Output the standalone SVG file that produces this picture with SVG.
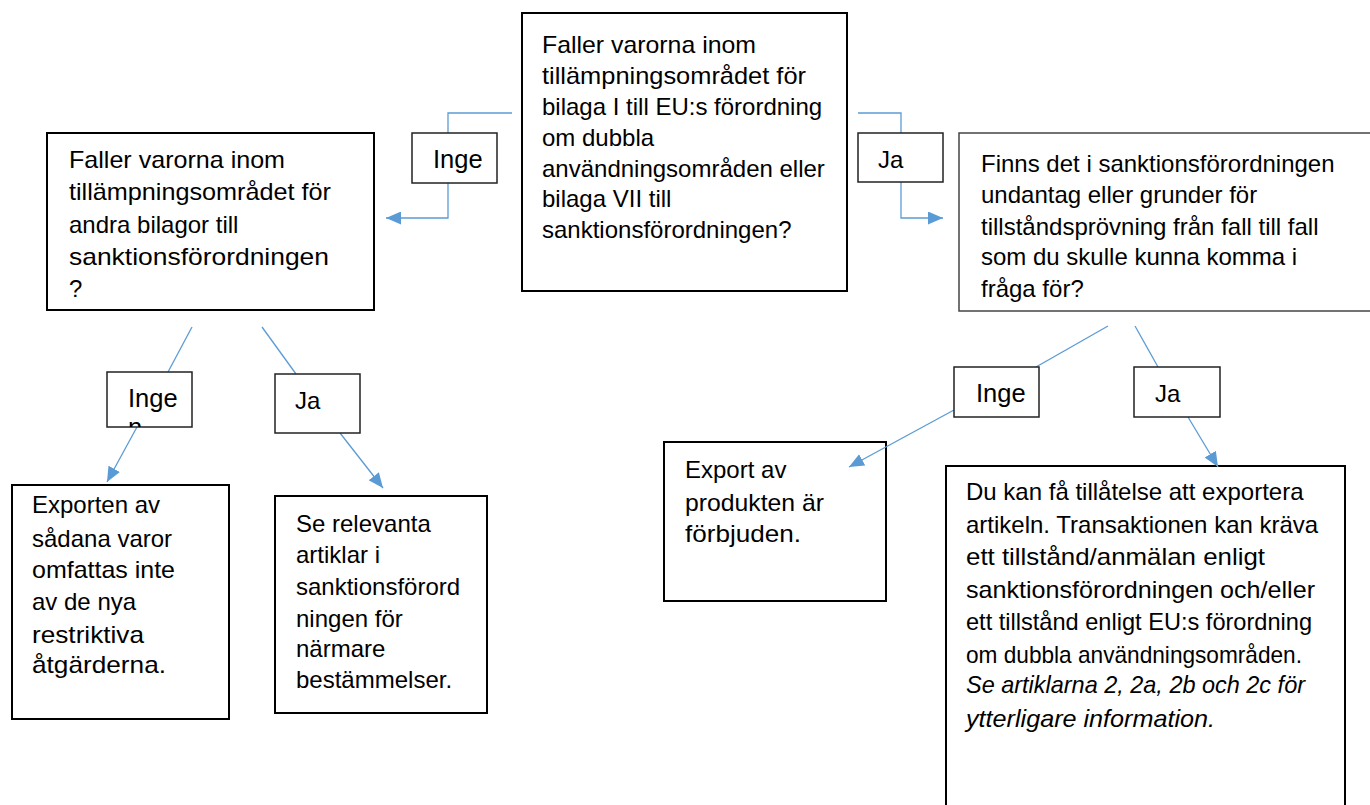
<svg xmlns="http://www.w3.org/2000/svg" width="1370" height="805" viewBox="0 0 1370 805">
<style>
text{font-family:"Liberation Sans",Arial,sans-serif;font-size:24px;fill:#000}
.box{fill:#fff;stroke:#000;stroke-width:2}
.lab{fill:#fff;stroke:#222;stroke-width:1.5}
.lt{font-size:25.5px}
.con{fill:none;stroke:#5B9BD5;stroke-width:1.3}
.it{font-style:italic}
</style>
<defs>
<marker id="ah" viewBox="0 0 15 13" refX="15" refY="6.5" markerWidth="15" markerHeight="13" markerUnits="userSpaceOnUse" orient="auto">
<path d="M0,0 L15,6.5 L0,13 Z" fill="#5B9BD5"/>
</marker>
<clipPath id="clipInge"><rect x="107" y="372" width="85" height="55"/></clipPath>
</defs>
<g id="q1">
<rect class="box" x="522" y="13" width="325" height="278"/>
<text x="542" y="53" textLength="214" lengthAdjust="spacingAndGlyphs">Faller varorna inom</text>
<text x="542" y="84" textLength="264" lengthAdjust="spacingAndGlyphs">tillämpningsområdet för</text>
<text x="542" y="115">bilaga I till EU:s förordning</text>
<text x="542" y="146">om dubbla</text>
<text x="542" y="177">användningsområden eller</text>
<text x="542" y="207">bilaga VII till</text>
<text x="542" y="238">sanktionsförordningen?</text>
</g>
<g id="q2">
<rect class="box" x="47" y="133" width="327" height="177"/>
<text x="69" y="168" textLength="216" lengthAdjust="spacingAndGlyphs">Faller varorna inom</text>
<text x="69" y="200" textLength="262" lengthAdjust="spacingAndGlyphs">tillämpningsområdet för</text>
<text x="69" y="233">andra bilagor till</text>
<text x="69" y="265" textLength="260" lengthAdjust="spacingAndGlyphs">sanktionsförordningen</text>
<text x="69" y="297">?</text>
</g>
<g id="q3">
<rect x="959" y="133" width="420" height="178" fill="#fff" stroke="#444" stroke-width="1.5"/>
<text x="981" y="172">Finns det i sanktionsförordningen</text>
<text x="981" y="203">undantag eller grunder för</text>
<text x="981" y="235">tillståndsprövning från fall till fall</text>
<text x="981" y="265">som du skulle kunna komma i</text>
<text x="981" y="297">fråga för?</text>
</g>
<g id="r1">
<rect class="box" x="12" y="485" width="217" height="234"/>
<text x="32" y="513">Exporten av</text>
<text x="32" y="547">sådana varor</text>
<text x="32" y="578" textLength="143" lengthAdjust="spacingAndGlyphs">omfattas inte</text>
<text x="32" y="610">av de nya</text>
<text x="32" y="643" textLength="112" lengthAdjust="spacingAndGlyphs">restriktiva</text>
<text x="32" y="673" textLength="134" lengthAdjust="spacingAndGlyphs">åtgärderna.</text>
</g>
<g id="r2">
<rect class="box" x="275" y="496" width="212" height="217"/>
<text x="296" y="532">Se relevanta</text>
<text x="296" y="563">artiklar i</text>
<text x="296" y="595">sanktionsförord</text>
<text x="296" y="627">ningen för</text>
<text x="296" y="657">närmare</text>
<text x="296" y="688">bestämmelser.</text>
</g>
<g id="r3">
<rect class="box" x="664" y="442" width="222" height="159"/>
<text x="685" y="478">Export av</text>
<text x="685" y="511" textLength="139" lengthAdjust="spacingAndGlyphs">produkten är</text>
<text x="685" y="542" textLength="116" lengthAdjust="spacingAndGlyphs">förbjuden.</text>
</g>
<g id="r4">
<rect class="box" x="946" y="466" width="399" height="345"/>
<text x="966" y="500">Du kan få tillåtelse att exportera</text>
<text x="966" y="533">artikeln. Transaktionen kan kräva</text>
<text x="966" y="565" textLength="299" lengthAdjust="spacingAndGlyphs">ett tillstånd/anmälan enligt</text>
<text x="966" y="598" textLength="349" lengthAdjust="spacingAndGlyphs">sanktionsförordningen och/eller</text>
<text x="966" y="630" textLength="346" lengthAdjust="spacingAndGlyphs">ett tillstånd enligt EU:s förordning</text>
<text x="966" y="663" textLength="336" lengthAdjust="spacingAndGlyphs">om dubbla användningsområden.</text>
<text class="it" x="966" y="693" textLength="339" lengthAdjust="spacingAndGlyphs">Se artiklarna 2, 2a, 2b och 2c för</text>
<text class="it" x="966" y="727" textLength="249" lengthAdjust="spacingAndGlyphs">ytterligare information.</text>
</g>
<g id="connectors">
<path class="con" d="M512,113 H448 V218 H386" marker-end="url(#ah)"/>
<path class="con" d="M858,113 H901 V218 H943" marker-end="url(#ah)"/>
<path class="con" d="M192,327 L168,372"/>
<path class="con" d="M137,427 L107,482" marker-end="url(#ah)"/>
<path class="con" d="M262,327 L296,374"/>
<path class="con" d="M340,433 L383,488" marker-end="url(#ah)"/>
<path class="con" d="M1108,326 L1036,367"/>
<path class="con" d="M954,410 L849,467" marker-end="url(#ah)"/>
<path class="con" d="M1135,326 L1158,367"/>
<path class="con" d="M1188,417 L1218,467" marker-end="url(#ah)"/>
</g>
<g id="l1">
<rect class="lab" x="412" y="133" width="85" height="50"/>
<text class="lt" x="433" y="168">Inge</text>
</g>
<g id="l2">
<rect class="lab" x="858" y="133" width="85" height="49"/>
<text x="878" y="168">Ja</text>
</g>
<g id="l3">
<rect class="lab" x="107" y="372" width="85" height="55"/>
<text class="lt" x="128" y="407">Inge</text>
<text class="lt" x="128" y="436" clip-path="url(#clipInge)">n</text>
</g>
<g id="l4">
<rect class="lab" x="275" y="374" width="85" height="59"/>
<text x="295" y="409">Ja</text>
</g>
<g id="l5">
<rect class="lab" x="954" y="367" width="85" height="50"/>
<text class="lt" x="976" y="402">Inge</text>
</g>
<g id="l6">
<rect class="lab" x="1134" y="367" width="86" height="50"/>
<text x="1155" y="402">Ja</text>
</g>
</svg>
